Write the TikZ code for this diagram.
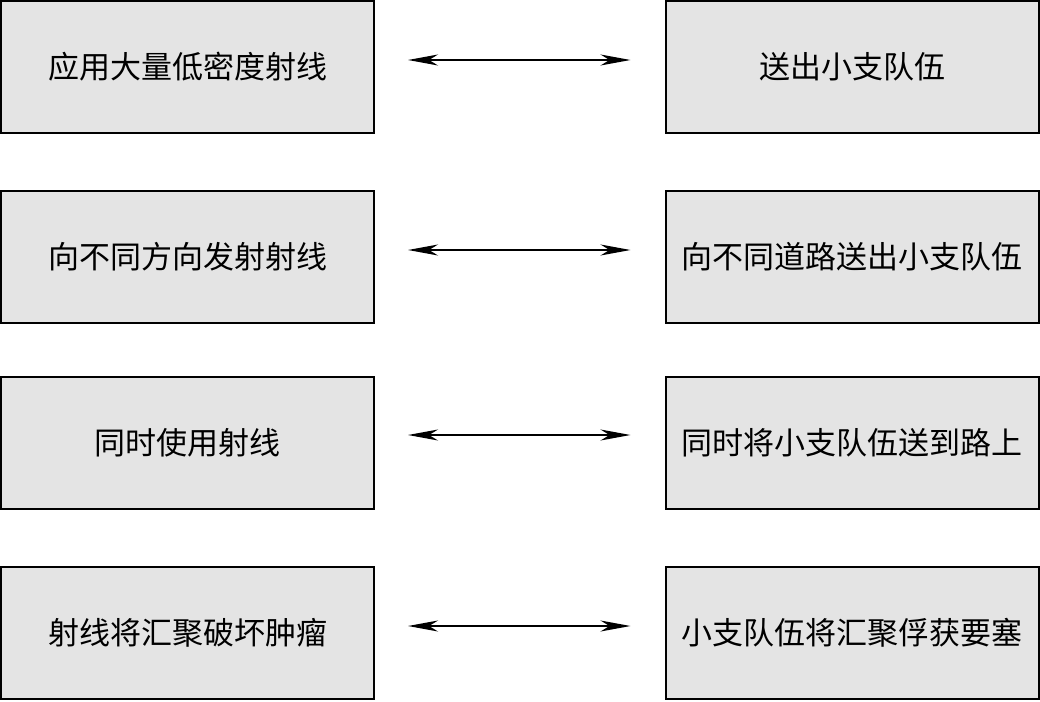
\documentclass[tikz,border=0pt]{standalone}
\usepackage{fontspec}
\newfontfamily\cjk{Noto Sans CJK SC}
\usetikzlibrary{arrows.meta}
\definecolor{boxgray}{HTML}{E4E4E4}
\begin{document}
\begin{tikzpicture}[x=1pt,y=-1pt,
  blk/.style={draw=black, line width=2pt, fill=boxgray, minimum width=373pt, minimum height=132pt, inner sep=0pt, font=\cjk\fontsize{31}{36}\selectfont},
  link/.style={line width=1.5pt, {Stealth[length=30pt,width=11pt,inset=9pt]}-{Stealth[length=30pt,width=11pt,inset=9pt]}, shorten <=33pt, shorten >=34pt}]
\useasboundingbox (0,0) rectangle (1040,701);
\node[blk] (l1) at (187.5,67) {应用大量低密度射线};
\node[blk] (r1) at (852,67) {送出小支队伍};
\node[blk] (l2) at (187.5,257) {向不同方向发射射线};
\node[blk] (r2) at (852,257) {向不同道路送出小支队伍};
\node[blk] (l3) at (187.5,443) {同时使用射线};
\node[blk] (r3) at (852,443) {同时将小支队伍送到路上};
\node[blk] (l4) at (187.5,633) {射线将汇聚破坏肿瘤};
\node[blk] (r4) at (852,633) {小支队伍将汇聚俘获要塞};
\draw[link] ([yshift=7pt]l1.east) -- ([yshift=7pt]r1.west);
\draw[link] ([yshift=7pt]l2.east) -- ([yshift=7pt]r2.west);
\draw[link] ([yshift=8pt]l3.east) -- ([yshift=8pt]r3.west);
\draw[link] ([yshift=7pt]l4.east) -- ([yshift=7pt]r4.west);
\end{tikzpicture}
\end{document}
